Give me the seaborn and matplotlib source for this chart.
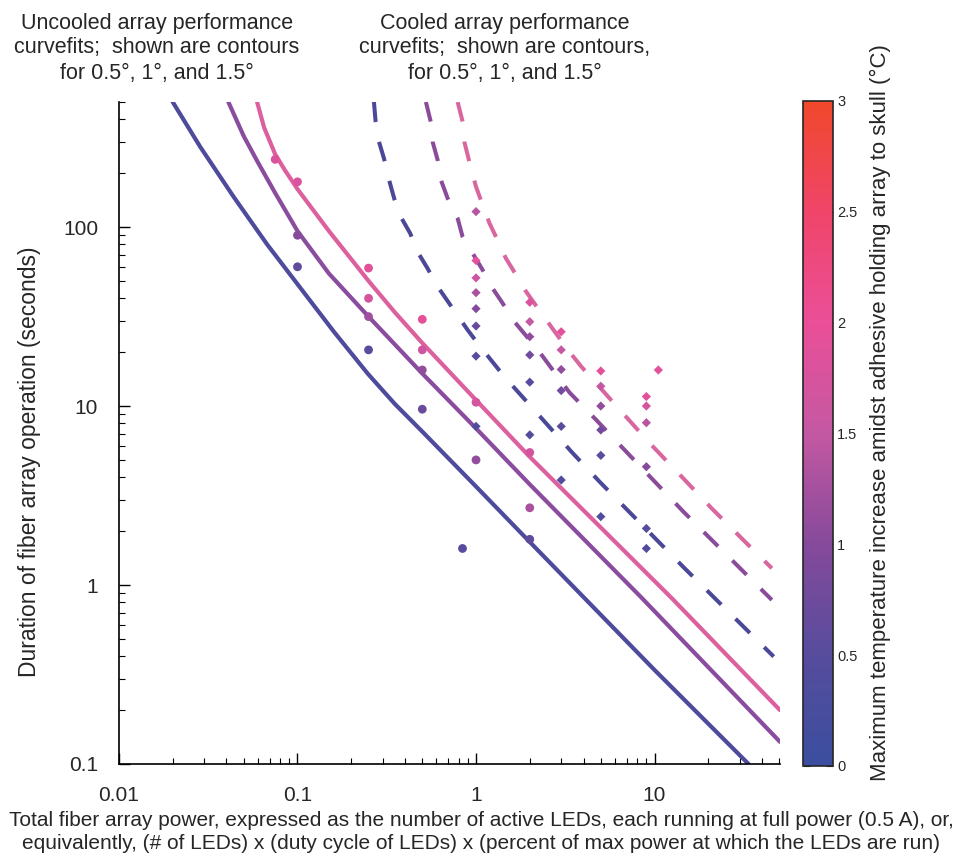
import matplotlib
matplotlib.use("Agg")
import matplotlib.pyplot as plt
import seaborn as sns
from matplotlib.colors import LinearSegmentedColormap, Normalize
from matplotlib.cm import ScalarMappable
from matplotlib.ticker import FuncFormatter, LogLocator, NullFormatter

# uncooled curve fits (solid)
unc_blue_p = [0.02, 0.0285, 0.0438, 0.0676, 0.1, 0.16, 0.247, 0.35, 0.5, 1, 2, 10, 33.6]
unc_blue_t = [500, 281, 148, 80, 48, 26, 15.2, 10.3, 7.2, 3.55, 1.74, 0.335, 0.1]
unc_purple_p = [0.041, 0.05, 0.06, 0.075, 0.1, 0.15, 0.25, 0.5, 1, 2, 8.45, 50.4]
unc_purple_t = [500, 322, 230, 155, 95, 55, 31.6, 15.2, 7.5, 3.65, 0.85, 0.133]
unc_pink_p = [0.0594, 0.065, 0.075, 0.085, 0.1, 0.15, 0.25, 0.35, 0.5, 1, 2, 12.5, 50.4]
unc_pink_t = [500, 360, 255, 208, 163, 95, 50, 33.5, 22.5, 10.8, 5.2, 0.843, 0.2]

# cooled curve fits (dashed)
cool_blue_p = [0.268, 0.274, 0.286, 0.305, 0.326, 0.348, 0.379, 0.428, 0.47, 0.535,
               0.61, 0.773, 0.898, 1.04, 1.44, 2.08, 3.42, 4.93, 7.11, 14.5, 46.5]
cool_blue_t = [500, 387, 300, 242, 183, 144.5, 114, 92.2, 72.8, 58.8,
               46.4, 33, 26.6, 21.9, 14.6, 9.7, 5.56, 3.77, 2.6, 1.26, 0.398]
cool_purple_p = [0.524, 0.558, 0.571, 0.61, 0.636, 0.694, 0.789, 0.841, 0.958, 1.09,
                 1.24, 1.41, 1.64, 2.22, 3.34, 4.72, 6.81, 14.5, 45.4]
cool_purple_t = [500, 387, 300, 236.6, 183, 144.6, 111.8, 88.3, 71.3, 57.5,
                 45.4, 37.5, 29.6, 20.6, 11.9, 8.35, 5.67, 2.57, 0.825]
cool_pink_p = [0.789, 0.842, 0.86, 0.937, 1.0, 1.09, 1.19, 1.32, 1.47, 1.68,
               1.91, 2.22, 3.27, 3.89, 6.53, 9.41, 14.5, 20.9, 30.8, 45.4]
cool_pink_t = [500, 387, 300, 213, 168, 132.7, 105, 84.6, 66.9, 53.9,
               43.5, 35.2, 20.6, 16.6, 9.3, 6.19, 3.94, 2.68, 1.82, 1.24]

# measured points, uncooled (circles)
unc_p = [0.075, 0.1, 0.1, 0.1, 0.25, 0.25, 0.25, 0.25, 0.5, 0.5, 0.5, 0.5,
         1, 1, 2, 2, 2, 0.84]
unc_t = [239, 179, 90, 60, 59, 40, 31.6, 20.6, 30.5, 20.6, 15.9, 9.6,
         10.5, 5.0, 5.5, 2.7, 1.8, 1.6]
unc_dT = [1.8, 1.8, 1.0, 0.6, 1.9, 1.7, 1.2, 0.5, 1.9, 1.6, 1.1, 0.7,
          1.7, 1.1, 1.7, 1.3, 0.6, 0.5]

# measured points, cooled (diamonds)
cool_p = [1, 1, 1, 1, 1, 1, 1, 1,
          2, 2, 2, 2, 2, 2,
          3, 3, 3, 3, 3, 3,
          5, 5, 5, 5, 5, 5,
          9, 9, 9, 9, 9, 9,
          10.5]
cool_t = [122, 65, 52, 43, 35, 28, 19, 7.7,
          38, 29.6, 24.4, 19.3, 13.6, 6.9,
          26, 20.6, 16, 12.2, 7.7, 3.86,
          15.7, 12.9, 10, 7.35, 5.3, 2.41,
          11.3, 10, 8.07, 4.58, 2.07, 1.6,
          15.9]
cool_dT = [1.4, 1.9, 1.6, 1.3, 1.0, 0.7, 0.5, 0.4,
           1.8, 1.5, 1.1, 0.8, 0.5, 0.4,
           1.9, 1.5, 1.1, 0.8, 0.5, 0.4,
           1.9, 1.5, 1.1, 0.8, 0.5, 0.4,
           1.9, 1.7, 1.4, 1.0, 0.5, 0.4,
           1.9]

cbar_ticks = [0, 0.5, 1, 1.5, 2, 2.5, 3]

sns.set_style("ticks")
plt.rcParams['font.family'] = ['Liberation Sans', 'DejaVu Sans']

cmap = LinearSegmentedColormap.from_list("temp", [
    (0.0, "#3b4e9f"), (0.5 / 3, "#574c9d"), (1 / 3, "#864a9b"),
    (1.5 / 3, "#c458a2"), (2 / 3, "#ea4f98"), (2.5 / 3, "#f0456a"),
    (1.0, "#f0482c")])

fig = plt.figure(figsize=(9.61, 8.65), dpi=100)
ax = fig.add_axes([0.1238, 0.1168, 0.6878, 0.7653])

solid = [(unc_blue_p, unc_blue_t, "#4e4a9c"),
         (unc_purple_p, unc_purple_t, "#8a4c9e"),
         (unc_pink_p, unc_pink_t, "#dd609e")]
for p, t, c in solid:
    sns.lineplot(x=p, y=t, ax=ax, color=c, lw=3, sort=False, estimator=None)

dashed = [(cool_blue_p, cool_blue_t, "#4b4898"),
          (cool_purple_p, cool_purple_t, "#8a4c9a"),
          (cool_pink_p, cool_pink_t, "#d9679f")]
for p, t, c in dashed:
    sns.lineplot(x=p, y=t, ax=ax, color=c, lw=2.9, sort=False, estimator=None)
    ax.lines[-1].set_dashes([5, 5])

sns.scatterplot(x=unc_p, y=unc_t, hue=unc_dT, palette=cmap, hue_norm=(0, 3),
                marker='o', s=40, linewidth=0, legend=False, ax=ax, zorder=3)
sns.scatterplot(x=cool_p, y=cool_t, hue=cool_dT, palette=cmap, hue_norm=(0, 3),
                marker='D', s=22, linewidth=0, legend=False, ax=ax, zorder=3)

ax.set_xscale('log')
ax.set_yscale('log')
ax.set_xlim(0.01, 50.4)
ax.set_ylim(0.1, 500)
ax.set_xticks([0.01, 0.1, 1, 10])
ax.set_yticks([0.1, 1, 10, 100])
fmt = FuncFormatter(lambda v, _: f"{v:g}")
ax.xaxis.set_major_formatter(fmt)
ax.yaxis.set_major_formatter(fmt)
ax.xaxis.set_minor_locator(LogLocator(base=10, subs=range(2, 10)))
ax.yaxis.set_minor_locator(LogLocator(base=10, subs=range(2, 10)))
ax.xaxis.set_minor_formatter(NullFormatter())
ax.yaxis.set_minor_formatter(NullFormatter())
ax.tick_params(which='both', direction='in', labelsize=15, color='black')
ax.tick_params(which='major', length=8, width=1)
ax.tick_params(which='minor', length=4, width=0.8)
ax.tick_params(axis='x', pad=16)
ax.tick_params(axis='y', pad=15)
for s in ['left', 'bottom']:
    ax.spines[s].set_color('black')
    ax.spines[s].set_linewidth(1.2)
sns.despine(ax=ax)

cax = fig.add_axes([0.8356, 0.1145, 0.0312, 0.7688])
cb = fig.colorbar(ScalarMappable(norm=Normalize(0, 3), cmap=cmap), cax=cax)
cb.set_ticks(cbar_ticks)
cb.set_ticklabels([f"{v:g}" for v in cbar_ticks])
cax.tick_params(direction='in', length=5, labelsize=10.5, left=True, right=True,
                pad=3)
cb.outline.set_linewidth(1.2)

fig.text(157 / 961, 1 - 48 / 865,
         "Uncooled array performance\ncurvefits;  shown are contours\nfor 0.5°, 1°, and 1.5°",
         ha='center', va='center', fontsize=15.5, linespacing=1.25)
fig.text(505 / 961, 1 - 48 / 865,
         "Cooled array performance\ncurvefits;  shown are contours,\nfor 0.5°, 1°, and 1.5°",
         ha='center', va='center', fontsize=15.5, linespacing=1.25)
fig.text(30 / 961, 1 - 462 / 865, "Duration of fiber array operation (seconds)",
         rotation=90, ha='center', va='center', fontsize=16.5)
fig.text(481 / 961, 1 - 832 / 865,
         "Total fiber array power, expressed as the number of active LEDs, each running at full power (0.5 A), or,\n"
         "equivalently, (# of LEDs) x (duty cycle of LEDs) x (percent of max power at which the LEDs are run)",
         ha='center', va='center', fontsize=15, linespacing=1.3)
fig.text(880 / 961, 1 - 413 / 865,
         "Maximum temperature increase amidst adhesive holding array to skull (°C)",
         rotation=90, ha='center', va='center', fontsize=16)

fig.savefig("out.png", dpi=100, facecolor='white')
